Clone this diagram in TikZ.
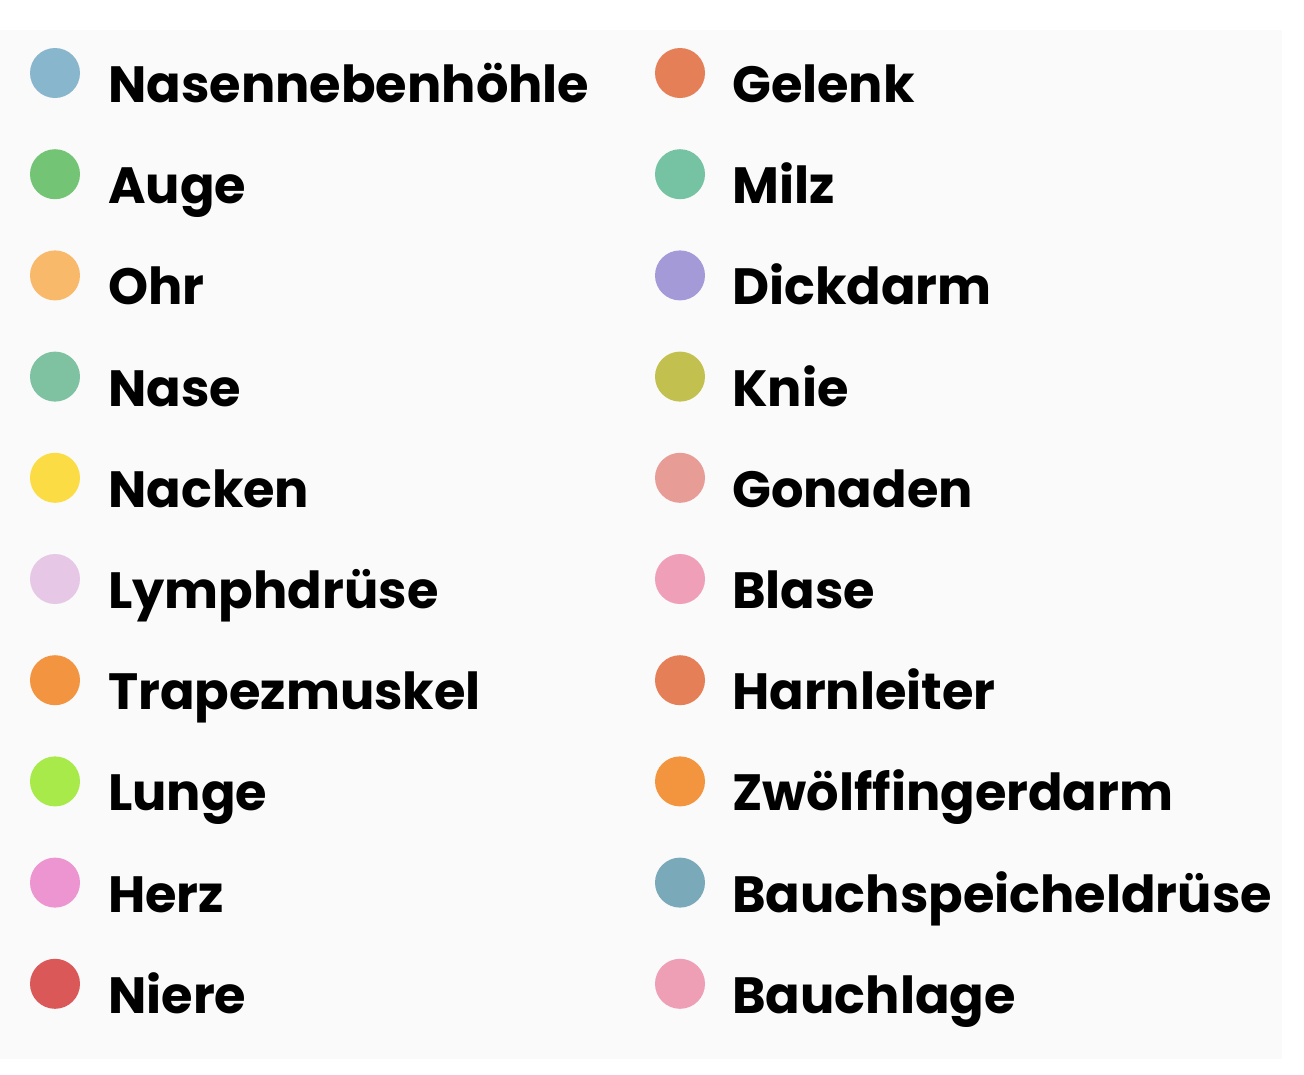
\documentclass[tikz,border=0pt]{standalone}
\usepackage{fontspec}
\setmainfont{Poppins}[BoldFont={* Bold}]
\definecolor{bgc}{HTML}{FAFAFA}
\definecolor{c1}{HTML}{88B6CC}
\definecolor{c2}{HTML}{74C476}
\definecolor{c3}{HTML}{F9B96B}
\definecolor{c4}{HTML}{7FC2A2}
\definecolor{c5}{HTML}{FBDC44}
\definecolor{c6}{HTML}{E6C8E6}
\definecolor{c7}{HTML}{F39441}
\definecolor{c8}{HTML}{A8EA4A}
\definecolor{c9}{HTML}{EC95D0}
\definecolor{c10}{HTML}{DA5858}
\definecolor{d1}{HTML}{E57F57}
\definecolor{d2}{HTML}{75C3A2}
\definecolor{d3}{HTML}{A49AD8}
\definecolor{d4}{HTML}{C2C150}
\definecolor{d5}{HTML}{E89C96}
\definecolor{d6}{HTML}{EF9FB7}
\definecolor{d7}{HTML}{E57F57}
\definecolor{d8}{HTML}{F3953F}
\definecolor{d9}{HTML}{7AA9BA}
\definecolor{d10}{HTML}{EE9FB6}
\tikzset{
  dot/.style={circle, minimum size=50pt, inner sep=0pt, draw=none},
  lbl/.style={anchor=base west, inner sep=0pt, font=\fontsize{51}{55}\selectfont\bfseries}
}
\begin{document}
\begin{tikzpicture}[x=1pt,y=-1pt]
\useasboundingbox (0,0) rectangle (1304,1074);
\fill[white] (0,0) rectangle (1304,1074);
\fill[bgc] (0,30) rectangle (1282,1059);
\foreach \i/\t in {1/Nasennebenhöhle,2/Auge,3/Ohr,4/Nase,5/Nacken,6/Lymphdrüse,7/Trapezmuskel,8/Lunge,9/Herz,10/Niere}{
  \node[dot, fill=c\i] (l\i) at (55,{73+(\i-1)*101.2}) {};
  \node[lbl] (lt\i) at (108,{102.5+(\i-1)*101.2}) {\t};
}
\foreach \i/\t in {1/Gelenk,2/Milz,3/Dickdarm,4/Knie,5/Gonaden,6/Blase,7/Harnleiter,8/Zwölffingerdarm,9/Bauchspeicheldrüse,10/Bauchlage}{
  \node[dot, fill=d\i] (r\i) at (680,{73+(\i-1)*101.2}) {};
  \node[lbl] (rt\i) at (732,{102.5+(\i-1)*101.2}) {\t};
}
\end{tikzpicture}
\end{document}
